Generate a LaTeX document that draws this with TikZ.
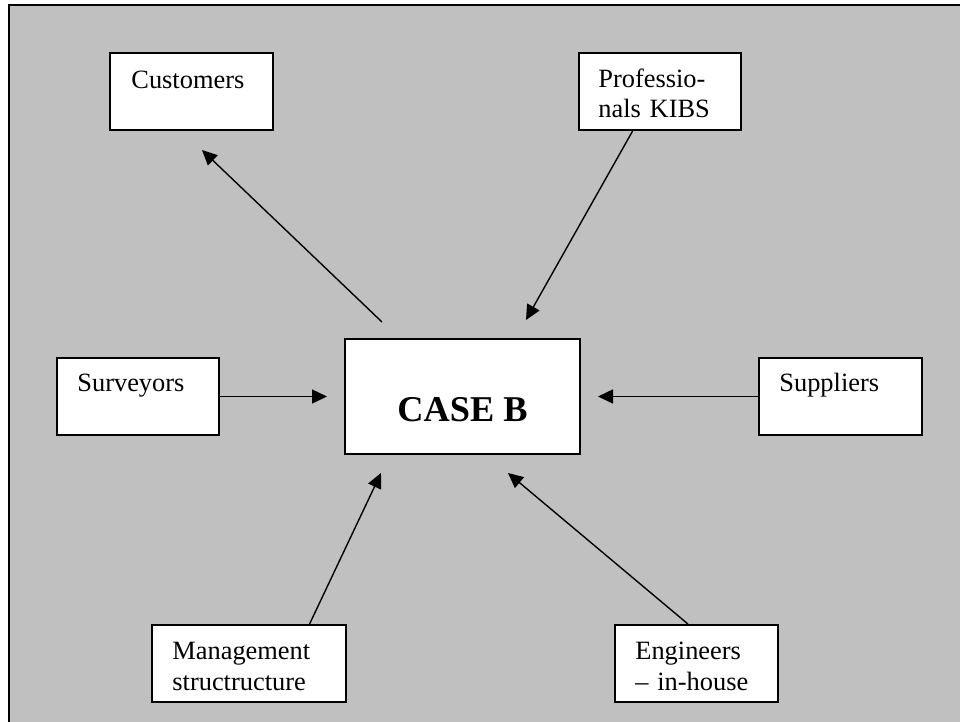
\documentclass[tikz,border=0pt]{standalone}
\usepackage{fontspec}
\setmainfont{Liberation Serif}
\usetikzlibrary{arrows.meta,calc}
\definecolor{bggray}{HTML}{C0C0C0}
\begin{document}
\begin{tikzpicture}[x=0.5pt,y=-0.5pt,
  box/.style={draw=black, line width=1pt, fill=white, rectangle, inner sep=0pt},
  txt/.style={inner sep=0pt, font=\fontsize{13.2}{15.25}\selectfont, text width=90pt, align=left, anchor=base west},
  casetxt/.style={inner sep=0pt, font=\bfseries\fontsize{18.15}{22}\selectfont, anchor=base},
  arr/.style={line width=0.7pt, -{Triangle[length=7.5pt,width=7pt]}}]
\useasboundingbox (0,0) rectangle (960,722);
\fill[bggray] (9,5.5) rectangle (960,722);
\draw[line width=1pt] (9,722) -- (9,5.5) -- (960,5.5);

% boxes
\node[box, minimum width=81.5pt, minimum height=38.5pt] (cust) at (191.5,91.5) {};
\node[box, minimum width=81pt, minimum height=38.5pt] (prof) at (660,91.5) {};
\node[box, minimum width=117.5pt, minimum height=57.5pt] (case) at (462.5,396.5) {};
\node[box, minimum width=81pt, minimum height=38.5pt] (surv) at (138,396.5) {};
\node[box, minimum width=81.5pt, minimum height=38.5pt] (supp) at (840.5,396.5) {};
\node[box, minimum width=97pt, minimum height=38.5pt] (mgmt) at (249,663.5) {};
\node[box, minimum width=81.5pt, minimum height=38.5pt] (eng) at (696.5,663.5) {};

% texts
\node[txt] (custT) at ($(cust.north west)+(22,37)$) {Customers};
\node[txt] (profT) at ($(prof.north west)+(20,35.5)$) {Professio-\\nals KIBS};
\node[casetxt] (caseT) at ($(case.north)+(0,84)$) {CASE B};
\node[txt] (survT) at ($(surv.north west)+(21,35)$) {Surveyors};
\node[txt] (suppT) at ($(supp.north west)+(21,35)$) {Suppliers};
\node[txt] (mgmtT) at ($(mgmt.north west)+(21,35.5)$) {Management\\structructure};
\node[txt] (engT) at ($(eng.north west)+(21,35.5)$) {Engineers\\– in-house};

% free ends
\coordinate (custTail) at (382,322);
\coordinate (custTip) at (202,150);
\coordinate (profTip) at (526,320);
\coordinate (survTip) at (327,396.5);
\coordinate (suppTip) at (598,396.5);
\coordinate (mgmtTip) at (381,473);
\coordinate (engTip) at (508,473);

% connectors
\draw[arr] (custTail) -- (custTip);
\draw[arr] ($(prof.south west)!0.333!(prof.south east)$) -- (profTip);
\draw[arr] (surv.east) -- (survTip);
\draw[arr] (supp.west) -- (suppTip);
\draw[arr] ($(mgmt.north west)!0.809!(mgmt.north east)$) -- (mgmtTip);
\draw[arr] ($(eng.north west)!0.448!(eng.north east)$) -- (engTip);
\end{tikzpicture}
\end{document}
